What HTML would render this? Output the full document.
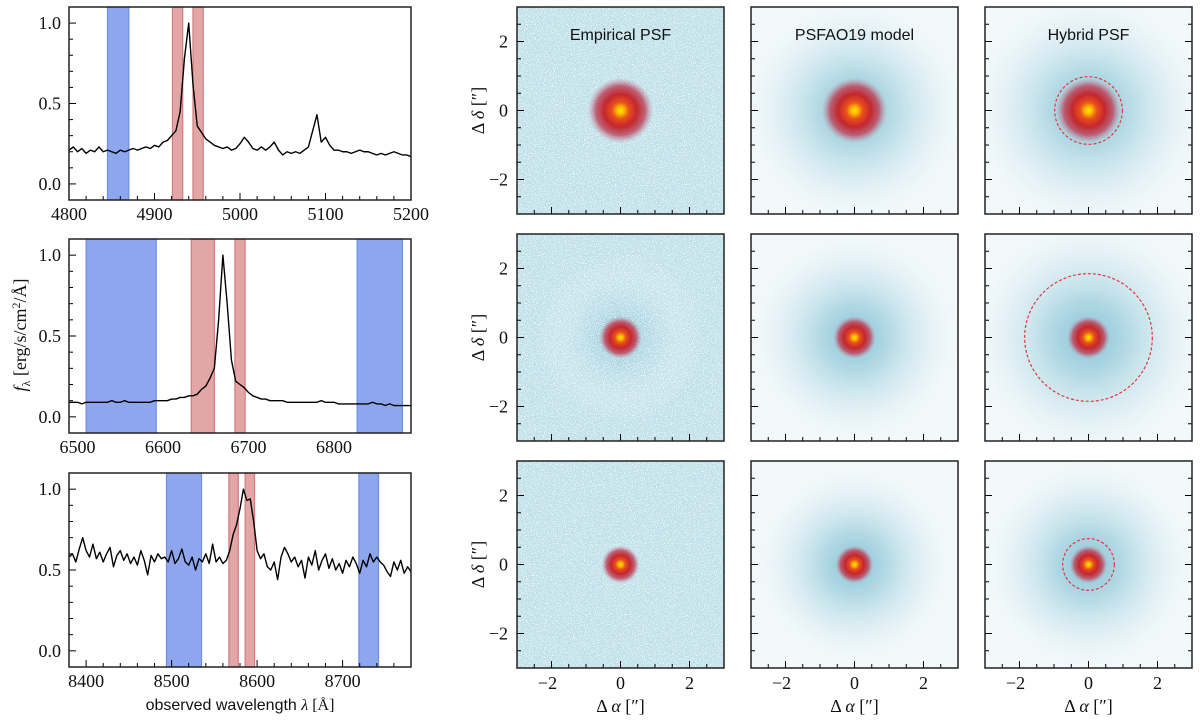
<!DOCTYPE html>
<html><head><meta charset="utf-8"><style>
html,body{margin:0;padding:0;background:#fff;}
svg{display:block;}
.tk{font-family:"Liberation Serif",serif;font-size:18px;fill:#111;}
.ss{font-family:"Liberation Sans",sans-serif;fill:#111;}
</style></head><body>
<svg id="fig" width="1200" height="720" viewBox="0 0 1200 720" xmlns="http://www.w3.org/2000/svg">
<defs>
<filter id="speck" x="0" y="0" width="100%" height="100%">
<feTurbulence type="fractalNoise" baseFrequency="0.9" numOctaves="1" seed="3"/>
<feColorMatrix values="0 0 0 0 1  0 0 0 0 1  0 0 0 0 1  0 0 0 6 -3.1"/>
</filter>
<radialGradient id="core">
<stop offset="0" stop-color="#ffe800"/>
<stop offset="0.10" stop-color="#ffc000"/>
<stop offset="0.26" stop-color="#e8501c"/>
<stop offset="0.5" stop-color="#c4262e"/>
<stop offset="0.75" stop-color="#bc4a60" stop-opacity="0.85"/>
<stop offset="1" stop-color="#c090a4" stop-opacity="0"/>
</radialGradient>
<radialGradient id="halo">
<stop offset="0" stop-color="#86c2d6"/>
<stop offset="0.3" stop-color="#a6d3e0" stop-opacity="0.85"/>
<stop offset="0.7" stop-color="#d4e9f0" stop-opacity="0.45"/>
<stop offset="1" stop-color="#eef6f9" stop-opacity="0"/>
</radialGradient>
</defs>
</svg>
<script>
// ---------- spectra data ----------
const spec1Start = 4800, spec1Step = 5;
const spec1Flux = [.21,.23,.20,.22,.19,.21,.20,.23,.20,.21,.20,.19,.21,.20,.21,.22,.21,.22,.23,.22,.24,.23,.26,.27,.30,.33,.45,.78,1.0,.62,.36,.32,.28,.26,.24,.23,.22,.23,.21,.22,.25,.29,.26,.22,.21,.23,.21,.23,.26,.21,.18,.20,.19,.20,.19,.21,.23,.33,.43,.26,.29,.24,.21,.21,.20,.20,.19,.20,.21,.20,.20,.19,.18,.19,.18,.19,.20,.19,.18,.18,.17];
const spec2Start = 6490, spec2Step = 5;
const spec2Flux = [.09,.09,.09,.08,.09,.09,.09,.09,.09,.09,.10,.09,.09,.10,.09,.09,.09,.09,.09,.09,.10,.10,.10,.10,.11,.11,.12,.12,.13,.13,.14,.17,.19,.24,.30,.60,1.0,.70,.35,.22,.20,.18,.15,.13,.12,.11,.11,.10,.10,.10,.10,.09,.09,.09,.09,.09,.09,.09,.09,.10,.09,.09,.09,.08,.08,.08,.08,.08,.08,.08,.08,.09,.08,.08,.07,.08,.07,.07,.07,.07,.07];
const spec3Start = 8380, spec3Step = 4;
const spec3Flux = [.58,.60,.55,.63,.70,.62,.58,.66,.57,.61,.55,.60,.64,.52,.59,.62,.56,.60,.54,.58,.53,.62,.56,.47,.59,.55,.60,.57,.58,.55,.62,.54,.57,.63,.55,.53,.58,.50,.57,.55,.60,.54,.66,.55,.58,.54,.56,.62,.72,.78,.88,1.0,.93,.94,.80,.62,.57,.60,.52,.50,.55,.44,.58,.64,.60,.55,.58,.52,.56,.45,.58,.53,.62,.50,.56,.60,.51,.57,.50,.54,.48,.56,.52,.58,.54,.48,.56,.52,.60,.55,.58,.55,.53,.49,.46,.55,.50,.56,.48,.52,.49];
const spec1Blue = [[4845,4870]], spec1Red = [[4921,4933],[4945,4957]];
const spec2Blue = [[6510,6592],[6827,6880]], spec2Red = [[6633,6660],[6684,6696]];
const spec3Blue = [[8494,8535],[8719,8742]], spec3Red = [[8567,8578],[8586,8597]];
const spec1X = [4800,5200], spec2X = [6490,6890], spec3X = [8380,8780];
const specXTicks1 = [4800,4900,5000,5100,5200];
const specXTicks2 = [6500,6600,6700,6800];
const specXTicks3 = [8400,8500,8600,8700];
const specYTicks = [0.0,0.5,1.0];
// ---------- PSF panel data (arcsec) ----------
const colTitles = ["Empirical PSF","PSFAO19 model","Hybrid PSF"];
const coreRadius = [0.95,0.62,0.55];
const haloRadius = [[1.6,3.4,3.6],[2.4,3.2,3.6],[0,3.0,3.2]];
const hybridCircle = [0.98,1.85,0.75];
const psfTicks = [-2,0,2];

const NS = "http://www.w3.org/2000/svg";
const svg = document.getElementById('fig');
function mk(tag, attrs, parent){const e=document.createElementNS(NS,tag);for(const k in attrs)e.setAttribute(k,attrs[k]);(parent||svg).appendChild(e);return e;}
function txt(s, attrs, parent){const e=mk('text',attrs,parent);e.textContent=s;return e;}

// ---------- spectra panels ----------
const specPanels = [
 {y0:7,y1:200,xr:spec1X,start:spec1Start,step:spec1Step,flux:spec1Flux,blue:spec1Blue,red:spec1Red,ticks:specXTicks1,name:'spectrum-panel-1'},
 {y0:239,y1:433,xr:spec2X,start:spec2Start,step:spec2Step,flux:spec2Flux,blue:spec2Blue,red:spec2Red,ticks:specXTicks2,name:'spectrum-panel-2'},
 {y0:473,y1:667,xr:spec3X,start:spec3Start,step:spec3Step,flux:spec3Flux,blue:spec3Blue,red:spec3Red,ticks:specXTicks3,name:'spectrum-panel-3'}
];
const sx0=69, sx1=411;
specPanels.forEach((p,pi)=>{
  const g=mk('g',{});
  
  
  const X=v=>sx0+(v-p.xr[0])/(p.xr[1]-p.xr[0])*(sx1-sx0);
  const Y=v=>p.y1-(v+0.1)/1.2*(p.y1-p.y0);
  p.blue.forEach(b=>{const r=mk('rect',{x:X(b[0]),y:p.y0,width:X(b[1])-X(b[0]),height:p.y1-p.y0,fill:'#8ea6ee',stroke:'#6f8ee8','stroke-width':1.2},g);
    
    });
  p.red.forEach(b=>{const r=mk('rect',{x:X(b[0]),y:p.y0,width:X(b[1])-X(b[0]),height:p.y1-p.y0,fill:'#e2a6a6',stroke:'#d47c7c','stroke-width':1.2},g);
    
    });
  let d='';
  p.flux.forEach((f,i)=>{const w=p.start+i*p.step;d+=(i?'L':'M')+X(w).toFixed(2)+','+Y(f).toFixed(2);});
  const ln=mk('path',{d:d,fill:'none',stroke:'#000','stroke-width':1.4,'stroke-linejoin':'round'},g);
  
  
  for(let v=p.xr[0];v<=p.xr[1];v+=20){ if(v%20!==0) continue; const major=v%100===0; mk('line',{x1:X(v),x2:X(v),y1:p.y1,y2:p.y1-(major?7:4),stroke:'#000','stroke-width':1},g);}
  p.ticks.forEach(v=>{const t=txt(String(v),{x:X(v),y:p.y1+20,'text-anchor':'middle',class:'tk'},g);
    
    });
  for(let k=-1;k<=11;k++){const v=k/10;const major=k%5===0;mk('line',{x1:sx0,x2:sx0+(major?7:4),y1:Y(v),y2:Y(v),stroke:'#000','stroke-width':1},g);}
  specYTicks.forEach(v=>{const t=txt(v.toFixed(1),{x:sx0-8,y:Y(v)+6,'text-anchor':'end',class:'tk'},g);
    
    });
  mk('rect',{x:sx0,y:p.y0,width:sx1-sx0,height:p.y1-p.y0,fill:'none',stroke:'#222','stroke-width':1.5},g);
});
const yl=txt('',{transform:'translate(26,335) rotate(-90)','text-anchor':'middle',class:'tk'});


yl.innerHTML='<tspan font-style="italic">f</tspan><tspan font-size="12" dy="4">λ</tspan><tspan dy="-4"> [erg/s/cm</tspan><tspan font-size="12" dy="-6">2</tspan><tspan dy="6">/Å]</tspan>';
const xl=txt('observed wavelength ',{x:240,y:710,'text-anchor':'middle',class:'ss','font-size':16});


xl.innerHTML='observed wavelength <tspan font-family="Liberation Serif" font-style="italic">λ</tspan><tspan font-family="Liberation Serif"> [Å]</tspan>';

// ---------- PSF panels ----------
const colX=[517,751,985], rowY=[7,234,461], S=207;
for(let r=0;r<3;r++)for(let c=0;c<3;c++){
  const x0=colX[c], y0=rowY[r], cx=x0+S/2, cy=y0+S/2, k=S/6;
  const g=mk('g',{});
  
  
  const cid='clip'+r+c;
  const cp=mk('clipPath',{id:cid},g); mk('rect',{x:x0,y:y0,width:S,height:S},cp);
  const ig=mk('g',{'clip-path':'url(#'+cid+')'},g);
  if(c===0){
    mk('rect',{x:x0,y:y0,width:S,height:S,fill:'#c0e0ea'},ig);
    if(r>0) mk('circle',{cx:cx,cy:cy,r:haloRadius[r][0]*k,fill:'url(#halo)',opacity:0.8},ig);
    mk('rect',{x:x0,y:y0,width:S,height:S,filter:'url(#speck)',opacity:0.8},ig);
  } else {
    mk('rect',{x:x0,y:y0,width:S,height:S,fill:'#f3f9fb'},ig);
    mk('circle',{cx:cx,cy:cy,r:haloRadius[r][c]*k,fill:'url(#halo)'},ig);
  }
  const core=mk('circle',{cx:cx,cy:cy,r:coreRadius[r]*k,fill:'url(#core)'},ig);
  
  
  if(c===2){const ci=mk('circle',{cx:cx,cy:cy,r:hybridCircle[r]*k,fill:'none',stroke:'#e8343c','stroke-width':1.2,'stroke-dasharray':'3,2'},ig);
    
    }
  for(let t=-2.5;t<=2.5;t+=0.5){const major=Math.abs(t%2)<1e-9;const L=major?7:4;
    mk('line',{x1:cx+t*k,x2:cx+t*k,y1:y0+S,y2:y0+S-L,stroke:'#000'},g);
    mk('line',{x1:x0,x2:x0+L,y1:cy-t*k,y2:cy-t*k,stroke:'#000'},g);
    if(c===2) mk('line',{x1:x0+S,x2:x0+S-L,y1:cy-t*k,y2:cy-t*k,stroke:'#000'},g);}
  if(c===0) psfTicks.forEach(v=>{const t=txt(v<0?'−'+(-v):String(v),{x:x0-9,y:cy-v*k+6,'text-anchor':'end',class:'tk'},g);
    
    });
  if(r===2) psfTicks.forEach(v=>{const t=txt(v<0?'−'+(-v):String(v),{x:cx+v*k-(v<0?4:0),y:y0+S+21,'text-anchor':'middle',class:'tk'},g);
    
    });
  if(r===0){const t=txt(colTitles[c],{x:cx,y:y0+33,'text-anchor':'middle',class:'ss','font-size':16},g);
    
    }
  mk('rect',{x:x0,y:y0,width:S,height:S,fill:'none',stroke:'#222','stroke-width':1.5},g);
  if(c===0){const t=txt('',{transform:'translate(484,'+cy+') rotate(-90)','text-anchor':'middle',class:'tk'},g);
    t.innerHTML='Δ <tspan font-style="italic">δ</tspan> [″]';
    
    }
  if(r===2){const t=txt('',{x:cx,y:712,'text-anchor':'middle',class:'tk'},g);
    t.innerHTML='Δ <tspan font-style="italic">α</tspan> [″]';
    
    }
}
</script>
</body></html>
